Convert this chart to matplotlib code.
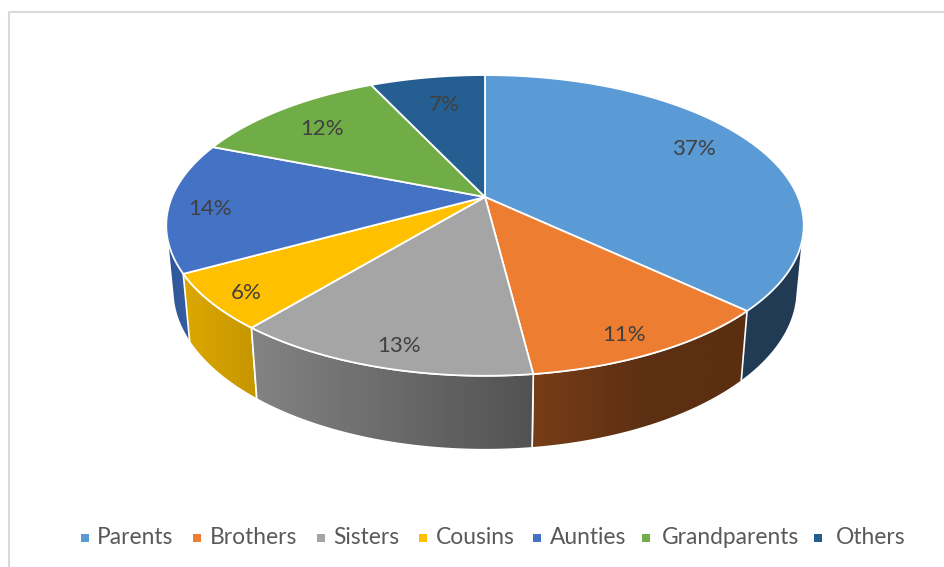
import matplotlib
matplotlib.use("Agg")
import matplotlib.pyplot as plt
import numpy as np
from matplotlib.colors import LinearSegmentedColormap
from matplotlib.patches import Polygon

plt.rcParams["font.family"] = ["Lato", "DejaVu Sans"]

categories = ["Parents", "Brothers", "Sisters", "Cousins", "Aunties", "Grandparents", "Others"]
shares = [37, 11, 13, 6, 14, 12, 7]
top_colors = ["#5B9BD5", "#ED7D31", "#A5A5A5", "#FFC000", "#4472C4", "#70AD47", "#255E91"]
# shading stops across each slice's side wall, left to right
wall_colors = [
    ("#233F5A", "#213B54"),
    ("#783D18", "#5E3012", "#5B2E12"),
    ("#838383", "#525252"),
    ("#DCA800", "#C69600"),
    ("#2F5597", "#3D68B4"),
    ("#3F6A28", "#4E7F30"),
    ("#173A5A", "#1D4A72"),
]
label_pos = [(694, 148), (624, 334), (399, 345), (246, 292), (210, 208), (322, 128), (444, 104)]
legend_marker_x = [85, 197, 321, 423, 537, 646, 818]
legend_text_x = [97, 210, 333, 436, 550, 662, 836]

# perspective model of the pie disc, in pixels
CX, CY = 485, 197
RX, RY = 313, 145
TILT = 0.189
DROP, SHRINK = 65, 0.02


def project(theta, r=1.0, bottom=False):
    # theta is clockwise from twelve o'clock
    x = r * np.sin(theta)
    y = r * np.cos(theta)
    w = 1 + TILT * y + (SHRINK if bottom else 0)
    px = CX + RX * x / w
    py = CY + (-RY * y + (DROP if bottom else 0)) / w
    return np.column_stack([px, py])


def hull(points):
    # monotone chain, closes the gap up to the rim on slices that turn the side
    pts = sorted(map(tuple, points))

    def half(seq):
        out = []
        for p in seq:
            while len(out) >= 2:
                a, b = out[-2], out[-1]
                if (b[0] - a[0]) * (p[1] - a[1]) - (b[1] - a[1]) * (p[0] - a[0]) > 0:
                    break
                out.pop()
            out.append(p)
        return out[:-1]

    return np.array(half(pts) + half(pts[::-1]))


fig = plt.figure(figsize=(9.45, 5.67), dpi=100)
ax = fig.add_axes([0, 0, 1, 1])
ax.axis("off")

edges = np.cumsum([0] + shares) / sum(shares) * 2 * np.pi

# side walls first, back slices before front ones
order = [6, 5, 0, 4, 1, 3, 2]
for k, i in enumerate(order):
    z = 2 + k * 0.1
    t = np.linspace(edges[i], edges[i + 1], 120)
    top_rim, low_rim = project(t), project(t, bottom=True)
    turns_side = edges[i] < np.pi / 2 < edges[i + 1] or edges[i] < 3 * np.pi / 2 < edges[i + 1]
    if turns_side:
        pts = hull(np.vstack([top_rim, low_rim]))
    else:
        pts = np.vstack([top_rim, low_rim[::-1]])
    wall = Polygon(pts, closed=True, facecolor="none", edgecolor="none", zorder=z)
    ax.add_patch(wall)
    cmap = LinearSegmentedColormap.from_list("wall%d" % i, wall_colors[i])
    x0, x1 = pts[:, 0].min(), pts[:, 0].max()
    y0, y1 = pts[:, 1].min(), pts[:, 1].max()
    im = ax.imshow(np.linspace(0, 1, 256).reshape(1, -1), cmap=cmap, aspect="auto",
                   extent=(x0, x1, y1, y0), zorder=z)
    im.set_clip_path(wall)
    ax.add_patch(Polygon(pts, closed=True, facecolor="none", edgecolor="white",
                         linewidth=1.2, zorder=z + 0.05))

# top face of the pie
for i in range(len(shares)):
    t = np.linspace(edges[i], edges[i + 1], 160)
    pts = np.vstack([[[CX, CY]], project(t)])
    ax.add_patch(Polygon(pts, closed=True, facecolor=top_colors[i], edgecolor="white",
                         linewidth=1.3, joinstyle="round", zorder=4))

for v, (x, y) in zip(shares, label_pos):
    ax.text(x, y + 1, "%d%%" % v, ha="center", va="center", fontsize=16, color="#404040", zorder=5)

# legend row
for name, color, mx, tx in zip(categories, top_colors, legend_marker_x, legend_text_x):
    ax.scatter([mx], [537.5], marker="s", s=36, color=color, linewidths=0, zorder=5)
    ax.text(tx, 538, name, ha="left", va="center", fontsize=16.4, color="#595959", zorder=5)

# chart frame, open on the right and at the bottom
ax.plot([9, 9, 945], [567, 12, 12], color="#D9D9D9", linewidth=1.5, zorder=1)

ax.set_xlim(0, 945)
ax.set_ylim(567, 0)
fig.savefig("out.png", dpi=100)
